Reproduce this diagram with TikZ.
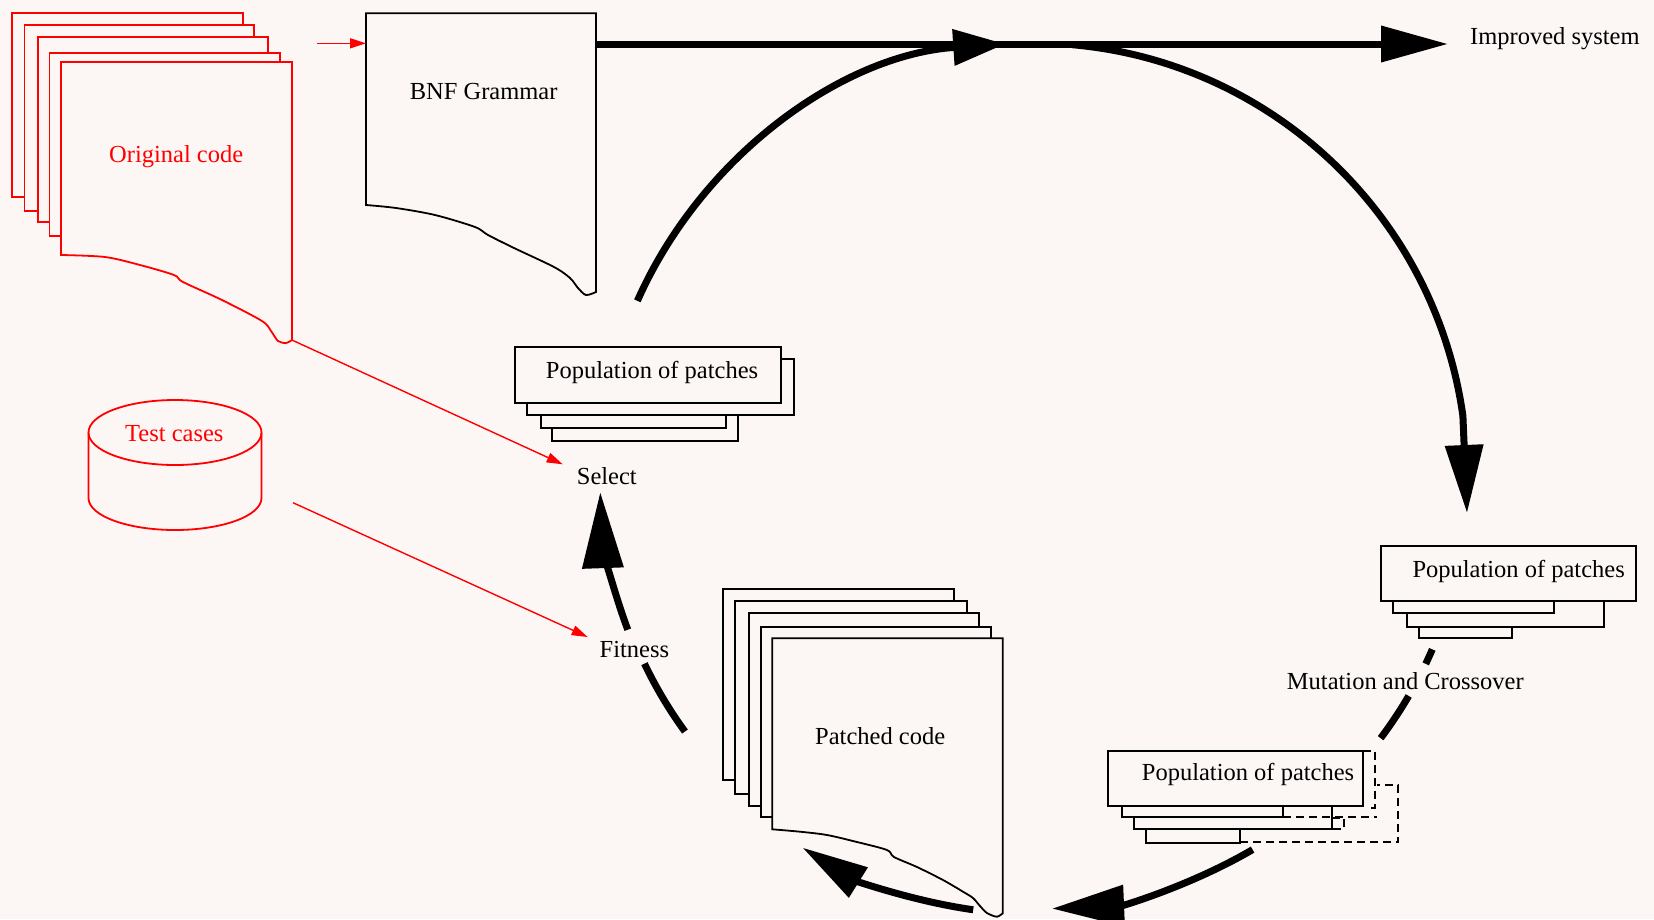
\documentclass[tikz,border=0pt]{standalone}
\usepackage{fontspec}
\setmainfont{Liberation Serif}
\usetikzlibrary{arrows.meta}
\definecolor{bgc}{RGB}{252,247,245}
\definecolor{redc}{RGB}{255,0,0}
\begin{document}
\begin{tikzpicture}[x=1pt,y=-1pt,
  lbl/.style={font=\fontsize{24.5}{28}\selectfont, inner sep=0pt, anchor=base west},
  page/.style={draw=black, line width=1.8pt, fill=bgc},
  redpage/.style={draw=redc, line width=1.8pt, fill=bgc},
  flow/.style={line width=7pt},
  redarrow/.style={draw=redc, line width=1.4pt, -{Triangle[length=16pt,width=10pt]}},
  dashline/.style={draw=black, line width=1.8pt, dash pattern=on 8pt off 5pt},
]
\fill[bgc] (0,0) rectangle (1654,919);
\useasboundingbox (0,0) rectangle (1654,919);

% Original code stack
\draw[redpage] (12,13) rectangle (243,197);
\draw[redpage] (24.5,25) rectangle (254,211);
\draw[redpage] (38,37) rectangle (268,222);
\draw[redpage] (49.5,53) rectangle (280,236);
\draw[redpage] (61,62) -- (292,62) -- (292,340) -- plot[smooth, tension=0.5] coordinates {(292,340) (286,343) (278,341) (271,331) (262,321) (222,300) (183,282) (174,275) (140,265) (105,257) (61,255)} -- cycle;
\coordinate (origOut) at (293,340.5);

% BNF Grammar
\draw[page] (366,13.3) -- (596,13.3) -- (596,292) -- plot[smooth, tension=0.5] coordinates {(596,292) (586,295) (578,288) (570,278) (554,267) (514,248) (488,235) (475,227) (435,215) (396,208) (366,205)} -- cycle;
\coordinate (bnfW) at (366,43.3);
\coordinate (bnfE) at (596,44);
\coordinate (redStart) at (316.6,43.3);

% Test cases cylinder
\draw[redc, line width=1.8pt, fill=bgc] (88.5,432.5) -- (88.5,498) arc[start angle=180, end angle=360, x radius=86.5pt, y radius=32pt] -- (261.5,432.5);
\draw[redc, line width=1.8pt] (175,432.5) ellipse [x radius=86.5pt, y radius=32.5pt];
\coordinate (testOut) at (293,502.7);

% Population of patches (upper)
\draw[page] (552.3,380) rectangle (737.7,440.7);
\draw[page] (540.7,370) rectangle (726,428.3);
\draw[page] (526.7,359.3) rectangle (794.3,415);
\draw[page] (515,347.3) rectangle (781,402.7);

% Population of patches (right)
\draw[page] (1419,580) rectangle (1511.7,638.3);
\draw[page] (1406.7,570) rectangle (1604.3,626.7);
\draw[page] (1393.3,560) rectangle (1554.3,613.3);
\draw[page] (1381,546) rectangle (1635.7,601);

% Population of patches (bottom)
\draw[page] (1145.7,780) rectangle (1240,843.3);
\draw[page] (1134,770) rectangle (1331.7,829.3);
\draw[page] (1122.3,760) rectangle (1283.3,817.3);
\draw[page] (1108.3,750.7) rectangle (1363.3,806);
\draw[dashline] (1363,751) -- (1375,751) -- (1375,808) -- (1368,808);
\draw[dashline] (1283.3,817.3) -- (1377,817.3);
\draw[dashline] (1332,818.3) -- (1344,818.3) -- (1344,829.3) -- (1332,829.3);
\draw[dashline] (1240,842.3) -- (1398.3,842.3) -- (1398.3,785) -- (1377,785);

% Patched code stack
\draw[page] (723.3,589.3) rectangle (954,780);
\draw[page] (735,601) rectangle (966.7,794);
\draw[page] (749,612.7) rectangle (979,806);
\draw[page] (760.7,626.7) rectangle (990.7,817.3);
\draw[page] (772.3,638.3) -- (1002.7,638.3) -- (1002.7,913.3) -- plot[smooth, tension=0.5] coordinates {(1002.7,913.3) (996.7,916.7) (987,913) (980,906) (973,898) (963,891.7) (943,880) (917,867) (894,857) (887,850) (857,842) (827,835) (800,831.7) (772.3,829.3)} -- cycle;

% The cycle
\coordinate (C) at (1034,477);
\coordinate (rightTip) at (1467,513);
\draw[flow,-{Triangle[length=52pt,width=35pt]}] (C) ++(156.05:434pt) arc[start angle=156.05, end angle=93.8, radius=434pt];
\draw[flow,-{Triangle[length=68pt,width=37pt]}] (C) ++(85:434pt) arc[start angle=85, end angle=8, radius=433pt] -- (rightTip);
\draw[flow] (C) ++(-23.4:434pt) arc[start angle=-23.4, end angle=-25.5, radius=434pt];
\draw[flow] (C) ++(-30.3:434pt) arc[start angle=-30.3, end angle=-37, radius=434pt];
\draw[flow,-{Triangle[length=72pt,width=40pt]}] (C) ++(-59.6:432pt) arc[start angle=-59.6, end angle=-87.6, radius=432pt];
\draw[flow,-{Triangle[length=66pt,width=34pt]}] (C) ++(-98:437pt) arc[start angle=-98, end angle=-122, radius=437pt];
\draw[flow] (C) ++(-143.9:432pt) arc[start angle=-143.9, end angle=-154.4, radius=432pt];
\draw[flow,-{Triangle[length=76pt,width=40pt]}] (C) ++(-159.4:434pt) arc[start angle=-159.4, end angle=-178, radius=434pt];

% main output line
\coordinate (impTip) at (1448,44);
\draw[flow,-{Triangle[length=67pt,width=35pt]}] (bnfE) -- (impTip);

% red arrows
\coordinate (selIn) at (562.7,464.3);
\coordinate (fitIn) at (587.7,637);
\draw[redarrow] (redStart) -- (bnfW);
\draw[redarrow] (origOut) -- (selIn);
\draw[redarrow] (testOut) -- (fitIn);

% labels
\node[lbl, text=redc] (orig) at (109,162.7) {Original code};
\node[lbl] (bnf) at (409.6,99.3) {BNF Grammar};
\node[lbl] (imp) at (1470,44.3) {Improved system};
\node[lbl] (pop1) at (545.7,378.3) {Population of patches};
\node[lbl] (select) at (576.7,484.3) {Select};
\node[lbl, text=redc] (test) at (125,441.7) {Test cases};
\node[lbl] (fitness) at (599.5,657) {Fitness};
\node[lbl] (patched) at (815,744) {Patched code};
\node[lbl] (pop2) at (1412.3,577.3) {Population of patches};
\node[lbl] (mut) at (1286.7,689.3) {Mutation and Crossover};
\node[lbl] (pop3) at (1141.7,780.7) {Population of patches};
\end{tikzpicture}
\end{document}
